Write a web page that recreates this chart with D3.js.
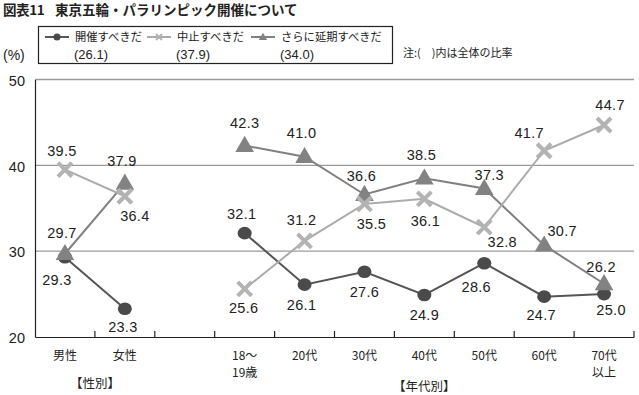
<!DOCTYPE html>
<html><head><meta charset="utf-8">
<script src="https://cdn.jsdelivr.net/npm/d3@7/dist/d3.min.js"></script>
<style>
html,body{margin:0;padding:0;background:#fff;}
svg{display:block;}
text{font-family:"Liberation Sans","Noto Sans CJK JP",sans-serif;fill:#222;}
.jp{font-family:"Noto Sans CJK JP",sans-serif;}
</style></head>
<body><svg id="c" width="639" height="395"></svg>
<script>
// ---- data ----
const titleNo = "図表11";
const title = "東京五輪・パラリンピック開催について";
const slots = ["男性","女性","_gap","18～19歳","20代","30代","40代","50代","60代","70代以上"];
const categories = ["男性","女性","18～19歳","20代","30代","40代","50代","60代","70代以上"];
const tickLabels = [["男性"],["女性"],[],["18～","19歳"],["20代"],["30代"],["40代"],["50代"],["60代"],["70代","以上"]];
const groupLabels = ["【性別】","【年代別】"];
const seriesNames = ["開催すべきだ","中止すべきだ","さらに延期すべきだ"];
const seriesTotals = ["(26.1)","(37.9)","(34.0)"];
const kaisai = [29.3,23.3,32.1,26.1,27.6,24.9,28.6,24.7,25.0];
const chushi = [39.5,36.4,25.6,31.2,35.5,36.1,32.8,41.7,44.7];
const enki   = [29.7,37.9,42.3,41.0,36.6,38.5,37.3,30.7,26.2];
const yTicks = [20,30,40,50];
const note = "注:(　)内は全体の比率";

// ---- layout (label offsets relative to point, px) ----
const labelOffsets = [
  [[-8,23],[-2,18],[-3,-19],[-3,20],[0,20],[0,20],[-8,24],[-3,18],[7,16]],
  [[-3,-19],[10,20],[-1,19],[-3,-21],[7,20],[1,22],[18,15],[-15,-18],[6,-20]],
  [[-3,-21],[-3,-23],[0,-23],[-3,-24],[-3,-19],[-3,-23],[5,-14],[18,-14],[-3,-17]]
];
const styles = [
  {line:"#555555", mark:"#4a4a4a", shape:"circle", width:2},
  {line:"#ababab", mark:"#b3b3b3", shape:"cross", width:2},
  {line:"#808080", mark:"#828282", shape:"triangle", width:2}
];
const seriesValues = [kaisai, chushi, enki];

const svg = d3.select("#c");
const x = d3.scaleBand().domain(slots).range([35,634]).paddingInner(0).paddingOuter(0);
const y = d3.scaleLinear().domain([20,50]).range([337,79.5]);
const cx = c => x(c) + x.bandwidth()/2;

// title
svg.append("text").attr("class","jp").attr("x",3).attr("y",15)
  .attr("font-size",13.5).attr("font-weight","bold").attr("letter-spacing",-0.4).text(titleNo);
svg.append("text").attr("class","jp").attr("x",55).attr("y",15)
  .attr("font-size",13.5).attr("font-weight","bold").text(title);

// gridlines
svg.append("g").selectAll("line").data(yTicks.filter(t=>t>20)).join("line")
  .attr("x1",35).attr("x2",634).attr("y1",d=>y(d)).attr("y2",d=>y(d))
  .attr("stroke","#9a9a9a").attr("stroke-width",1.3);

// y axis
const yAxis = svg.append("g").attr("transform","translate(35,0)")
  .call(d3.axisLeft(y).tickValues(yTicks).tickSize(0).tickPadding(10).tickFormat(d3.format("d")));
yAxis.select(".domain").attr("stroke","#222").attr("stroke-width",1.2);
yAxis.selectAll("text").attr("font-size",14.5).attr("fill","#222")
  .attr("font-family","Liberation Sans, sans-serif").attr("dy","0.4em");

// x axis (ticks inward)
const xAxis = svg.append("g").attr("transform","translate(0,337)")
  .call(d3.axisBottom(x).tickSize(0).tickFormat(""));
xAxis.select(".domain").attr("stroke","#222").attr("stroke-width",1.2);
svg.append("g").selectAll("line").data(slots).join("line")
  .attr("x1",d=> x(d) + x.bandwidth()).attr("x2",d=> x(d) + x.bandwidth())
  .attr("y1",337).attr("y2",331).attr("stroke","#222").attr("stroke-width",1.2);

// category labels
const catG = svg.append("g").attr("class","jp");
slots.forEach((s,i)=>{
  tickLabels[i].forEach((ln,j)=>{
    catG.append("text").attr("x",cx(s)).attr("y",359.5 + j*17.5)
      .attr("text-anchor","middle").attr("font-size",12).attr("class","jp").text(ln);
  });
});
svg.append("text").attr("class","jp").attr("x",(cx("男性")+cx("女性"))/2).attr("y",387.5)
  .attr("text-anchor","middle").attr("font-size",12.5).text(groupLabels[0]);
svg.append("text").attr("class","jp").attr("x",(x("18～19歳")+634)/2).attr("y",390.5)
  .attr("text-anchor","middle").attr("font-size",12.5).text(groupLabels[1]);

// (%)
svg.append("text").attr("x",3).attr("y",60).attr("font-size",14).text("(%)");

// series
function drawMarker(g, shape, color, px, py){
  if(shape==="circle"){
    g.append("ellipse").attr("cx",px).attr("cy",py).attr("rx",7).attr("ry",6.3).attr("fill",color);
  } else if(shape==="triangle"){
    g.append("path").attr("d",d3.symbol(d3.symbolTriangle,150)())
      .attr("transform",`translate(${px},${py+1})`).attr("fill",color);
  } else {
    const s=7;
    g.append("path").attr("d",`M${px-s},${py-s}L${px+s},${py+s}M${px-s},${py+s}L${px+s},${py-s}`)
      .attr("stroke",color).attr("stroke-width",4).attr("fill","none");
  }
}
const order = [0,2,1];
const line = d3.line().x(d=>cx(d.c)).y(d=>y(d.v));
order.forEach(si=>{
  const vals = seriesValues[si], st = styles[si];
  const pts = categories.map((c,i)=>({c, v: vals[i]}));
  const g = svg.append("g");
  [pts.slice(0,2), pts.slice(2)].forEach(seg=>{
    g.append("path").attr("d",line(seg)).attr("fill","none")
      .attr("stroke",st.line).attr("stroke-width",st.width);
  });
  pts.forEach(p=>drawMarker(g, st.shape, st.mark, cx(p.c), y(p.v)));
});
// labels on top
const lg = svg.append("g");
seriesValues.forEach((vals,si)=>{
  categories.forEach((c,i)=>{
    const o = labelOffsets[si][i];
    lg.append("text").attr("x",cx(c)+o[0]).attr("y",y(vals[i])+o[1]).attr("dy","0.36em")
      .attr("text-anchor","middle").attr("font-size",14.5).attr("letter-spacing",0.3)
      .text(vals[i].toFixed(1));
  });
});

// legend
const leg = svg.append("g");
leg.append("rect").attr("x",38.5).attr("y",26.5).attr("width",354).attr("height",37)
  .attr("fill","none").attr("stroke","#222").attr("stroke-width",1.2);
const legX = [45,147,251];
seriesNames.forEach((n,i)=>{
  const st = styles[i], lx = legX[i];
  leg.append("line").attr("x1",lx).attr("x2",lx+24).attr("y1",37).attr("y2",37)
    .attr("stroke",st.line).attr("stroke-width",2);
  const mg = leg.append("g");
  if(st.shape==="circle") mg.append("circle").attr("cx",lx+12).attr("cy",37).attr("r",3.5).attr("fill",st.mark);
  else if(st.shape==="triangle") mg.append("path").attr("d",d3.symbol(d3.symbolTriangle,30)()).attr("transform",`translate(${lx+12},37.5)`).attr("fill",st.mark);
  else mg.append("path").attr("d",`M${lx+9},34L${lx+15},40M${lx+9},40L${lx+15},34`).attr("stroke",st.mark).attr("stroke-width",2);
  leg.append("text").attr("class","jp").attr("x",lx+30).attr("y",37).attr("dy","0.36em")
    .attr("font-size",11.3).text(n);
  leg.append("text").attr("x",lx+29).attr("y",54).attr("dy","0.36em")
    .attr("font-size",13).text(seriesTotals[i]);
});
svg.append("text").attr("class","jp").attr("x",403).attr("y",53).attr("dy","0.36em")
  .attr("font-size",11).text(note);
</script></body></html>
